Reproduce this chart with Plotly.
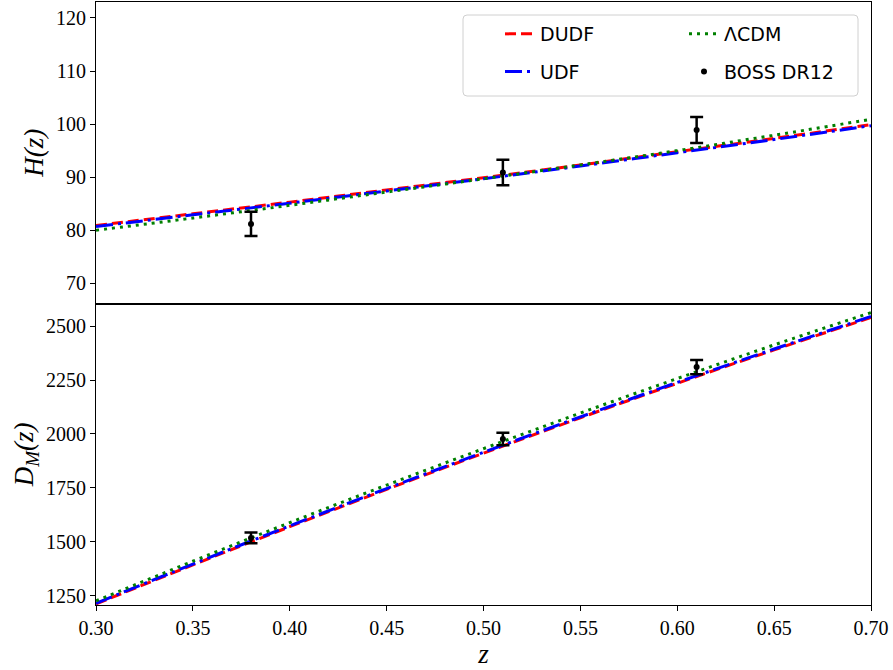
import plotly.graph_objects as go
from plotly.subplots import make_subplots

# ---------------- data ----------------
z_model = [0.30, 0.35, 0.40, 0.45, 0.50, 0.55, 0.60, 0.65, 0.70]

H_dudf = [80.9, 83.1, 85.3, 87.6, 89.9, 92.3, 94.8, 97.3, 99.9]
H_udf = [80.7, 82.9, 85.1, 87.4, 89.7, 92.1, 94.6, 97.1, 99.7]
H_lcdm = [80.0, 82.3, 84.7, 87.2, 89.7, 92.3, 95.0, 97.9, 100.9]

DM_dudf = [1212, 1393, 1570, 1743, 1911, 2075, 2235, 2390, 2540]
DM_udf = [1215, 1397, 1574, 1747, 1915, 2079, 2239, 2394, 2545]
DM_lcdm = [1226, 1410, 1589, 1763, 1932, 2097, 2257, 2413, 2563]

z_boss = [0.38, 0.51, 0.61]
H_boss = [81.2, 90.9, 98.9]
H_boss_err = [2.3, 2.4, 2.45]
DM_boss = [1518, 1977, 2310]
DM_boss_err = [25, 29, 33]

x_ticks = [0.30, 0.35, 0.40, 0.45, 0.50, 0.55, 0.60, 0.65, 0.70]
H_ticks = [70, 80, 90, 100, 110, 120]
DM_ticks = [1250, 1500, 1750, 2000, 2250, 2500]

# ---------------- styling ----------------
W, H = 893, 670
ML, MR, MT, MB = 96, 22, 2, 65
PW, PH = W - ML - MR, H - MT - MB

RED, BLUE, GREEN = "#ff0000", "#0000ff", "#008000"
LW = 3
tick_font = dict(family="Liberation Serif", size=20, color="black")
title_font = dict(family="Liberation Serif", size=27, color="black", style="italic")
legend_font = dict(family="DejaVu Sans", size=19, color="black")

fig = make_subplots(rows=2, cols=1, shared_xaxes=True, vertical_spacing=0)

series = [
    ("DUDF", H_dudf, DM_dudf, RED, "11px,5px", "legend", 1),
    ("UDF", H_udf, DM_udf, BLUE, "17px,5px,3px,5px", "legend", 2),
    ("\u039bCDM", H_lcdm, DM_lcdm, GREEN, "3px,5px", "legend2", 1),
]
for name, hv, dv, col, dash, leg, rank in series:
    fig.add_trace(go.Scatter(x=z_model, y=hv, mode="lines", name=name,
                             line=dict(color=col, width=LW, dash=dash, shape="spline"),
                             legend=leg, legendrank=rank, legendgroup=name,
                             showlegend=True), row=1, col=1)
    fig.add_trace(go.Scatter(x=z_model, y=dv, mode="lines", name=name,
                             line=dict(color=col, width=LW, dash=dash, shape="spline"),
                             legend=leg, legendgroup=name,
                             showlegend=False), row=2, col=1)

err_style = dict(type="data", thickness=2.5, width=6.5, color="black")
fig.add_trace(go.Scatter(x=z_boss, y=H_boss, mode="markers", name="BOSS DR12",
                         marker=dict(color="black", size=6),
                         error_y=dict(array=H_boss_err, **err_style),
                         legend="legend2", legendrank=2, legendgroup="boss"),
              row=1, col=1)
fig.add_trace(go.Scatter(x=z_boss, y=DM_boss, mode="markers", name="BOSS DR12",
                         marker=dict(color="black", size=6),
                         error_y=dict(array=DM_boss_err, **err_style),
                         legend="legend2", legendgroup="boss", showlegend=False),
              row=2, col=1)

axis_common = dict(showline=True, linecolor="black", linewidth=1, mirror=True,
                   showgrid=False, zeroline=False, tickfont=tick_font,
                   ticks="outside", ticklen=5, tickwidth=1, tickcolor="black")

fig.update_xaxes(range=[0.30, 0.70], tickvals=x_ticks, tickformat=".2f", **axis_common)
fig.update_xaxes(showticklabels=False, ticks="", row=1, col=1)
fig.update_xaxes(title=dict(text="z", font=title_font, standoff=6), row=2, col=1)

fig.update_yaxes(range=[66.2, 123.0], tickvals=H_ticks,
                 title=dict(text="H(z)", font=title_font, standoff=4),
                 row=1, col=1, **axis_common)
fig.update_yaxes(range=[1207, 2605], tickvals=DM_ticks,
                 title=dict(text="D<sub>M</sub>(z)", font=title_font, standoff=4),
                 row=2, col=1, **axis_common)


def px_x(px):
    return (px - ML) / PW


def px_y(py):
    return (H - MB - py) / PH


# legend frame (rounded)
x0, x1, y0, y1 = px_x(463), px_x(858), px_y(96), px_y(15)
rx, ry = 4 / PW, 4 / PH
path = (f"M {x0+rx},{y0} L {x1-rx},{y0} Q {x1},{y0} {x1},{y0+ry} "
        f"L {x1},{y1-ry} Q {x1},{y1} {x1-rx},{y1} L {x0+rx},{y1} "
        f"Q {x0},{y1} {x0},{y1-ry} L {x0},{y0+ry} Q {x0},{y0} {x0+rx},{y0} Z")
fig.add_shape(type="path", path=path, xref="paper", yref="paper",
              line=dict(color="#d0d0d0", width=1), fillcolor="rgba(255,255,255,0.8)",
              layer="above")

leg_common = dict(font=legend_font, bgcolor="rgba(0,0,0,0)", borderwidth=0,
                  xanchor="left", yanchor="top", tracegroupgap=10,
                  orientation="v", itemwidth=30)
fig.update_layout(
    width=W, height=H,
    margin=dict(l=ML, r=MR, t=MT, b=MB),
    plot_bgcolor="white", paper_bgcolor="white",
    showlegend=True,
    legend=dict(x=px_x(500), y=px_y(15), **leg_common),
    legend2=dict(x=px_x(684), y=px_y(15), **leg_common),
)

fig.write_html("out.html")
